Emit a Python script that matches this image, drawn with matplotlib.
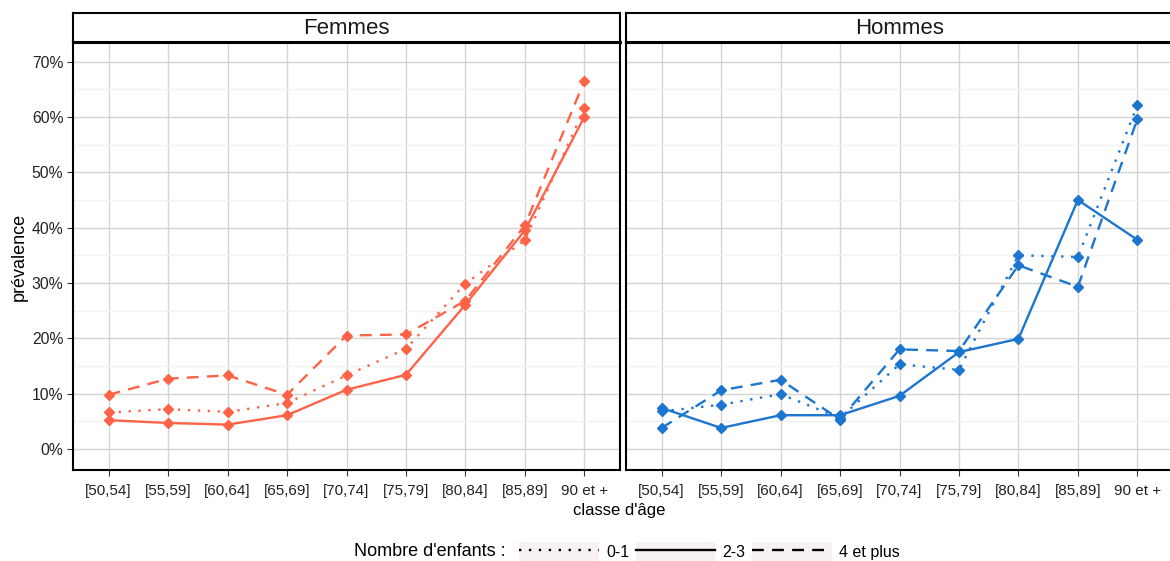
import numpy as np
import matplotlib
matplotlib.use('Agg')
import matplotlib.pyplot as plt
from matplotlib.lines import Line2D
from matplotlib.patches import Rectangle
from matplotlib.legend_handler import HandlerTuple

plt.rcParams['font.family'] = ['Liberation Sans', 'DejaVu Sans']

# valeurs (prevalence en %)
ages = ['[50,54]', '[55,59]', '[60,64]', '[65,69]', '[70,74]',
        '[75,79]', '[80,84]', '[85,89]', '90 et +']
femmes_01 = [6.6, 7.2, 6.7, 8.3, 13.3, 18.1, 29.9, 37.7, 61.6]
femmes_23 = [5.2, 4.7, 4.4, 6.1, 10.7, 13.4, 26.1, 39.5, 60.0]
femmes_4p = [9.8, 12.7, 13.3, 9.8, 20.5, 20.7, 26.8, 40.4, 66.5]
hommes_01 = [6.8, 8.0, 9.9, 5.6, 15.3, 14.3, 35.0, 34.7, 62.1]
hommes_23 = [7.4, 3.8, 6.1, 6.1, 9.6, 17.5, 19.9, 45.0, 37.8]
hommes_4p = [3.8, 10.6, 12.5, 5.3, 18.0, 17.7, 33.2, 29.3, 59.6]
groupes = ['0-1', '2-3', '4 et plus']

col_f = '#ff6347'
col_h = '#1c75cf'
styles = {'0-1': (0, (1, 3.2)), '2-3': '-', '4 et plus': (0, (5, 3.5))}

W, H = 1170, 561
fig = plt.figure(figsize=(W / 100, H / 100), dpi=100)

panels = [('Femmes', 73, col_f, [femmes_01, femmes_23, femmes_4p]),
          ('Hommes', 626, col_h, [hommes_01, hommes_23, hommes_4p])]

x = np.arange(1, len(ages) + 1)
pw = 547
top, bot, strip_top = 41.7, 470, 13.3

for i, (name, left, col, series) in enumerate(panels):
    ax = fig.add_axes([left / W, (H - bot) / H, pw / W, (bot - top) / H])
    for g, vals in zip(groupes, series):
        ax.plot(x, vals, color=col, linestyle=styles[g], lw=1.7,
                marker='D', ms=5.5, zorder=3)
    ax.set_xlim(0.4, 9.6)
    ax.set_ylim(-3.8, 73.6)
    ax.set_xticks(x)
    ax.set_xticklabels(ages, fontsize=11, color='#222222')
    ax.set_yticks(np.arange(0, 71, 10))
    ax.set_yticks(np.arange(5, 71, 10), minor=True)
    if i == 0:
        ax.set_yticklabels([f'{v}%' for v in range(0, 71, 10)],
                           fontsize=11.3, color='#222222')
    else:
        ax.set_yticklabels([])
    ax.tick_params(axis='both', which='major', length=4, width=0.8,
                   color='#333333', pad=3)
    ax.tick_params(axis='x', which='major', pad=6)
    ax.tick_params(axis='y', which='minor', length=0)
    if i == 1:
        ax.tick_params(axis='y', which='major', length=0)
    ax.grid(True, which='major', color='#d4d4d4', lw=1.0, zorder=0)
    ax.grid(True, which='minor', axis='y', color='#f2f2f2', lw=1.0, zorder=0)
    ax.set_axisbelow(True)
    for s in ax.spines.values():
        s.set_color('black')
        s.set_linewidth(1.5)

    # bandeau du panneau
    st = fig.add_axes([left / W, (H - top) / H, pw / W, (top - strip_top) / H])
    st.set_xticks([])
    st.set_yticks([])
    for s in st.spines.values():
        s.set_color('black')
        s.set_linewidth(1.5)
    st.spines['bottom'].set_linewidth(2.2)
    st.text(0.5, 0.45, name, ha='center', va='center', fontsize=16,
            color='#1a1a1a', transform=st.transAxes)

fig.text(19 / W, (H - 257) / H, 'prévalence', rotation=90, ha='center',
         va='center', fontsize=13)
fig.text(619 / W, (H - 511) / H, "classe d'âge", ha='center', va='center',
         fontsize=12)

# legende
handles = []
for g in groupes:
    bg = Rectangle((0, 0), 1, 1, facecolor='#f7f1f4', edgecolor='none')
    ln = Line2D([], [], color='black', linestyle=styles[g], lw=1.7)
    handles.append((bg, ln))
fig.text(505 / W, (H - 552) / H, "Nombre d'enfants :", ha='right',
         va='center', fontsize=13)
fig.legend(handles, groupes, loc='center left',
           bbox_to_anchor=(519 / W, (H - 552) / H), ncol=3, frameon=False,
           fontsize=11.5, handlelength=5.0, handleheight=1.5,
           handletextpad=0.45, columnspacing=0.4, borderpad=0, borderaxespad=0,
           handler_map={tuple: HandlerTuple(ndivide=1, pad=0)})

fig.savefig('out.png', dpi=100)
